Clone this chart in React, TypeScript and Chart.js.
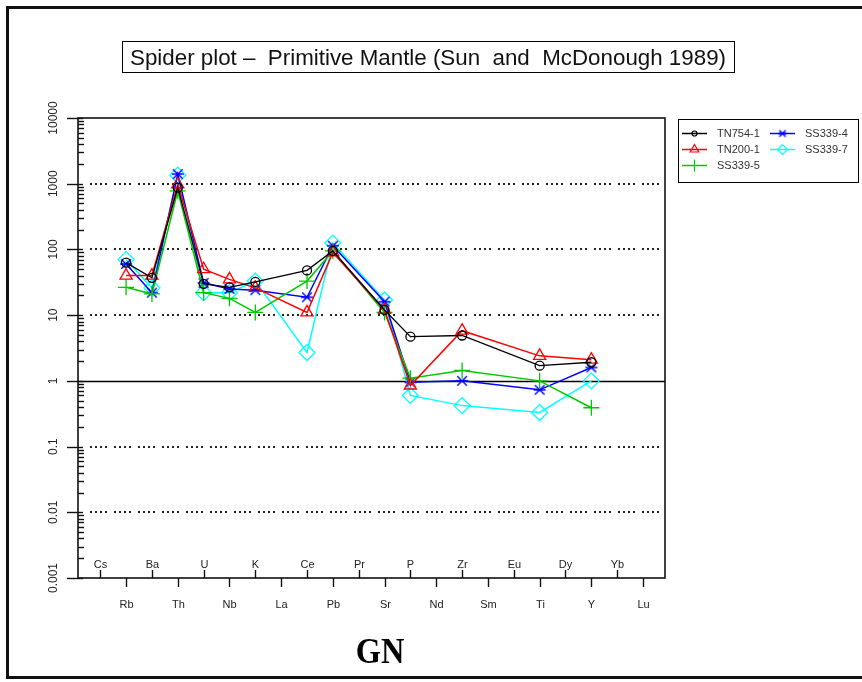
import React, { useEffect, useRef } from 'react';
import { Chart, registerables } from 'chart.js';
import { drawPoint } from 'chart.js/helpers';

Chart.register(...registerables);

// Element order along the x axis (primitive-mantle normalised spider diagram)
const elements = ['Cs', 'Rb', 'Ba', 'Th', 'U', 'Nb', 'K', 'La', 'Ce', 'Pb', 'Pr', 'Sr', 'P', 'Nd', 'Zr', 'Sm', 'Eu', 'Ti', 'Dy', 'Y', 'Yb', 'Lu'];

// Elements that have analyses for every sample
const analysed = ['Rb', 'Ba', 'Th', 'U', 'Nb', 'K', 'Ce', 'Pb', 'Sr', 'P', 'Zr', 'Ti', 'Y'];

// Sample / primitive mantle ratios, in the same order as `analysed`
const tn754_1 = [63, 37, 870, 30, 26.5, 32, 48, 95, 12, 4.7, 4.9, 1.7, 1.92];
const tn200_1 = [40, 40, 980, 50, 35, 26, 11, 90, 12, 0.85, 5.8, 2.4, 2.1];
const ss339_5 = [26.5, 21, 780, 22, 18, 11, 33, 95, 11, 1.1, 1.44, 1.0, 0.39];
const ss339_4 = [60, 22, 1400, 31, 25, 24, 18.7, 114, 16, 0.95, 1.0, 0.73, 1.6];
const ss339_7 = [70, 26, 1350, 22, 22, 33, 2.7, 125, 17, 0.6, 0.42, 0.33, 1.0];

const sampleNames = ['TN754-1', 'TN200-1', 'SS339-5', 'SS339-4', 'SS339-7'];
const sampleColors = ['#000000', '#ff0000', '#00c800', '#0000ff', '#00ffff'];

// Log axis decades and their labels
const decadeValues = [0.001, 0.01, 0.1, 1, 10, 100, 1000, 10000];
const decadeLabels = ['0.001', '0.01', '0.1', '1', '10', '100', '1000', '10000'];
const dottedLevels = [0.01, 0.1, 10, 100, 1000];
const unityLevel = 1;

const titleText = 'Spider plot \u2013  Primitive Mantle (Sun  and  McDonough 1989)';
const footerText = 'GN';

const AXIS_FONT = '"Liberation Sans", Arial, sans-serif';

function toPoints(values: number[]) {
  return analysed.map((el, i) => ({ x: elements.indexOf(el), y: values[i] }));
}

// asterisk-like marker: an X with a horizontal bar
function makeStarMarker(color: string, size: number) {
  const c = document.createElement('canvas');
  c.width = size;
  c.height = size;
  const g = c.getContext('2d')!;
  const m = size / 2;
  const r = size / 2 - 2;
  g.strokeStyle = color;
  g.lineWidth = 1.4;
  g.beginPath();
  g.moveTo(m - r * 0.8, m - r * 0.8);
  g.lineTo(m + r * 0.8, m + r * 0.8);
  g.moveTo(m + r * 0.8, m - r * 0.8);
  g.lineTo(m - r * 0.8, m + r * 0.8);
  g.moveTo(m - r, m);
  g.lineTo(m + r, m);
  g.stroke();
  return c;
}

const decorPlugin = {
  id: 'spiderDecor',
  beforeDraw(chart: any) {
    const ctx: CanvasRenderingContext2D = chart.ctx;
    ctx.save();
    ctx.fillStyle = '#ffffff';
    ctx.fillRect(0, 0, chart.width, chart.height);

    // outer frame
    ctx.strokeStyle = '#111111';
    ctx.lineWidth = 3;
    ctx.strokeRect(7.5, 7.5, chart.width + 20, 670);

    // boxed title, condensed to fit its box
    ctx.lineWidth = 1;
    ctx.strokeStyle = '#000';
    ctx.strokeRect(122.5, 41.5, 612, 31);
    ctx.font = `22px ${AXIS_FONT}`;
    ctx.fillStyle = '#111';
    ctx.textBaseline = 'alphabetic';
    ctx.textAlign = 'left';
    const w = ctx.measureText(titleText).width;
    const target = 596;
    ctx.save();
    ctx.translate(130, 65);
    ctx.scale(target / w, 1);
    ctx.fillText(titleText, 0, 0);
    ctx.restore();

    // caption under the axis
    ctx.font = 'bold 36px "Liberation Serif", "Times New Roman", serif';
    ctx.textAlign = 'center';
    ctx.fillStyle = '#000';
    ctx.save();
    ctx.translate(380, 663);
    ctx.scale(0.9, 1);
    ctx.fillText(footerText, 0, 0);
    ctx.restore();
    ctx.restore();
  },
  beforeDatasetsDraw(chart: any) {
    const ctx: CanvasRenderingContext2D = chart.ctx;
    const a = chart.chartArea;
    const xs = chart.scales.x;
    const ys = chart.scales.y;
    ctx.save();

    // dotted decade lines
    ctx.strokeStyle = '#222';
    ctx.lineWidth = 2;
    ctx.setLineDash([2, 3, 2, 3, 2, 3, 2, 7]);
    for (const v of dottedLevels) {
      const py = Math.round(ys.getPixelForValue(v));
      ctx.beginPath();
      ctx.moveTo(a.left + 12, py);
      ctx.lineTo(a.right - 4, py);
      ctx.stroke();
    }
    ctx.setLineDash([]);

    // reference line at unity
    const py1 = Math.round(ys.getPixelForValue(unityLevel)) + 0.5;
    ctx.strokeStyle = '#000';
    ctx.lineWidth = 1.6;
    ctx.beginPath();
    ctx.moveTo(a.left, py1);
    ctx.lineTo(a.right, py1);
    ctx.stroke();

    // plot frame
    ctx.lineWidth = 1.6;
    ctx.strokeStyle = '#111';
    ctx.strokeRect(a.left, a.top, a.right - a.left, a.bottom - a.top);

    // y axis ticks: major outside, minor inside
    ctx.lineWidth = 1.4;
    for (let i = 0; i < decadeValues.length; i++) {
      const v = decadeValues[i];
      const py = Math.round(ys.getPixelForValue(v)) + 0.5;
      ctx.beginPath();
      ctx.moveTo(a.left - 11, py);
      ctx.lineTo(a.left + 5, py);
      ctx.stroke();
      if (i < decadeValues.length - 1) {
        for (let k = 2; k <= 9; k++) {
          const pm = Math.round(ys.getPixelForValue(v * k)) + 0.5;
          ctx.beginPath();
          ctx.moveTo(a.left, pm);
          ctx.lineTo(a.left + 6, pm);
          ctx.stroke();
        }
      }
    }

    // y axis labels, rotated
    ctx.fillStyle = '#222';
    ctx.font = `12px ${AXIS_FONT}`;
    ctx.textAlign = 'center';
    ctx.textBaseline = 'middle';
    for (let i = 0; i < decadeValues.length; i++) {
      const py = ys.getPixelForValue(decadeValues[i]);
      ctx.save();
      ctx.translate(54, py);
      ctx.rotate(-Math.PI / 2);
      ctx.fillText(decadeLabels[i], 0, 0);
      ctx.restore();
    }

    // x axis ticks and element labels, alternating above / below
    ctx.font = `11px ${AXIS_FONT}`;
    ctx.textBaseline = 'alphabetic';
    ctx.lineWidth = 1.4;
    ctx.strokeStyle = '#111';
    for (let i = 0; i < elements.length; i++) {
      const px = Math.round(xs.getPixelForValue(i)) + 0.5;
      const up = i % 2 === 0;
      ctx.beginPath();
      ctx.moveTo(px, a.bottom);
      ctx.lineTo(px, up ? a.bottom - 8 : a.bottom + 9);
      ctx.stroke();
      ctx.fillText(elements[i], px, up ? a.bottom - 10 : a.bottom + 30);
    }
    ctx.restore();
  },
  afterDraw(chart: any) {
    const ctx: CanvasRenderingContext2D = chart.ctx;
    ctx.save();
    // legend box
    ctx.strokeStyle = '#000';
    ctx.lineWidth = 1;
    ctx.strokeRect(678.5, 119.5, 180, 63);
    ctx.font = `11px ${AXIS_FONT}`;
    ctx.textAlign = 'left';
    ctx.textBaseline = 'middle';
    const slots = [
      [682, 133],
      [682, 149],
      [682, 165],
      [770, 133],
      [770, 149],
    ];
    chart.data.datasets.forEach((ds: any, i: number) => {
      const [lx, ly] = slots[i];
      ctx.strokeStyle = ds.borderColor;
      ctx.lineWidth = 1.5;
      ctx.beginPath();
      ctx.moveTo(lx, ly + 0.5);
      ctx.lineTo(lx + 25, ly + 0.5);
      ctx.stroke();
      ctx.fillStyle = 'rgba(0,0,0,0)';
      ctx.strokeStyle = ds.borderColor;
      ctx.lineWidth = 1.2;
      drawPoint(ctx, { pointStyle: ds.legendStyle, rotation: 0, radius: ds.legendRadius, borderWidth: 1.2 } as any, lx + 12.5, ly + 0.5);
      ctx.fillStyle = '#333';
      ctx.fillText(ds.label, lx + 35, ly + 1);
    });
    ctx.restore();
  },
};

export default function App() {
  const canvasRef = useRef<HTMLCanvasElement | null>(null);

  useEffect(() => {
    document.body.style.margin = '0';
    const canvas = canvasRef.current;
    if (!canvas) return;
    const star = makeStarMarker(sampleColors[3], 16);
    const starSmall = makeStarMarker(sampleColors[3], 12);
    const series = [tn754_1, tn200_1, ss339_5, ss339_4, ss339_7];
    const styles: any[] = ['circle', 'triangle', 'cross', star, 'rectRot'];
    const radii = [4.5, 7, 8, 8, 8];
    const legendStyles: any[] = ['circle', 'triangle', 'cross', starSmall, 'rectRot'];
    const legendRadii = [2.5, 5, 6, 6, 5];

    const chart = new Chart(canvas, {
      type: 'line',
      data: {
        datasets: series.map((vals, i) => ({
          label: sampleNames[i],
          data: toPoints(vals),
          borderColor: sampleColors[i],
          backgroundColor: 'rgba(0,0,0,0)',
          borderWidth: i === 0 ? 1.3 : 1.5,
          pointStyle: styles[i],
          pointRadius: radii[i],
          pointBorderWidth: 1.3,
          pointBorderColor: sampleColors[i],
          pointBackgroundColor: 'rgba(0,0,0,0)',
          tension: 0,
          fill: false,
          legendRadius: legendRadii[i],
          legendStyle: legendStyles[i],
        })) as any,
      },
      options: {
        animation: false,
        responsive: false,
        devicePixelRatio: 1,
        layout: { padding: { left: 78, top: 118, right: 197, bottom: 104 } },
        plugins: {
          legend: { display: false },
          title: { display: false },
          tooltip: { enabled: false },
        },
        scales: {
          x: { type: 'linear', min: -0.86, max: 21.85, display: false },
          y: { type: 'logarithmic', min: 0.001, max: 10000, display: false },
        },
      },
      plugins: [decorPlugin],
    });
    return () => chart.destroy();
  }, []);

  return <canvas ref={canvasRef} width={862} height={682} style={{ display: 'block', width: 862, height: 682 }} />;
}
